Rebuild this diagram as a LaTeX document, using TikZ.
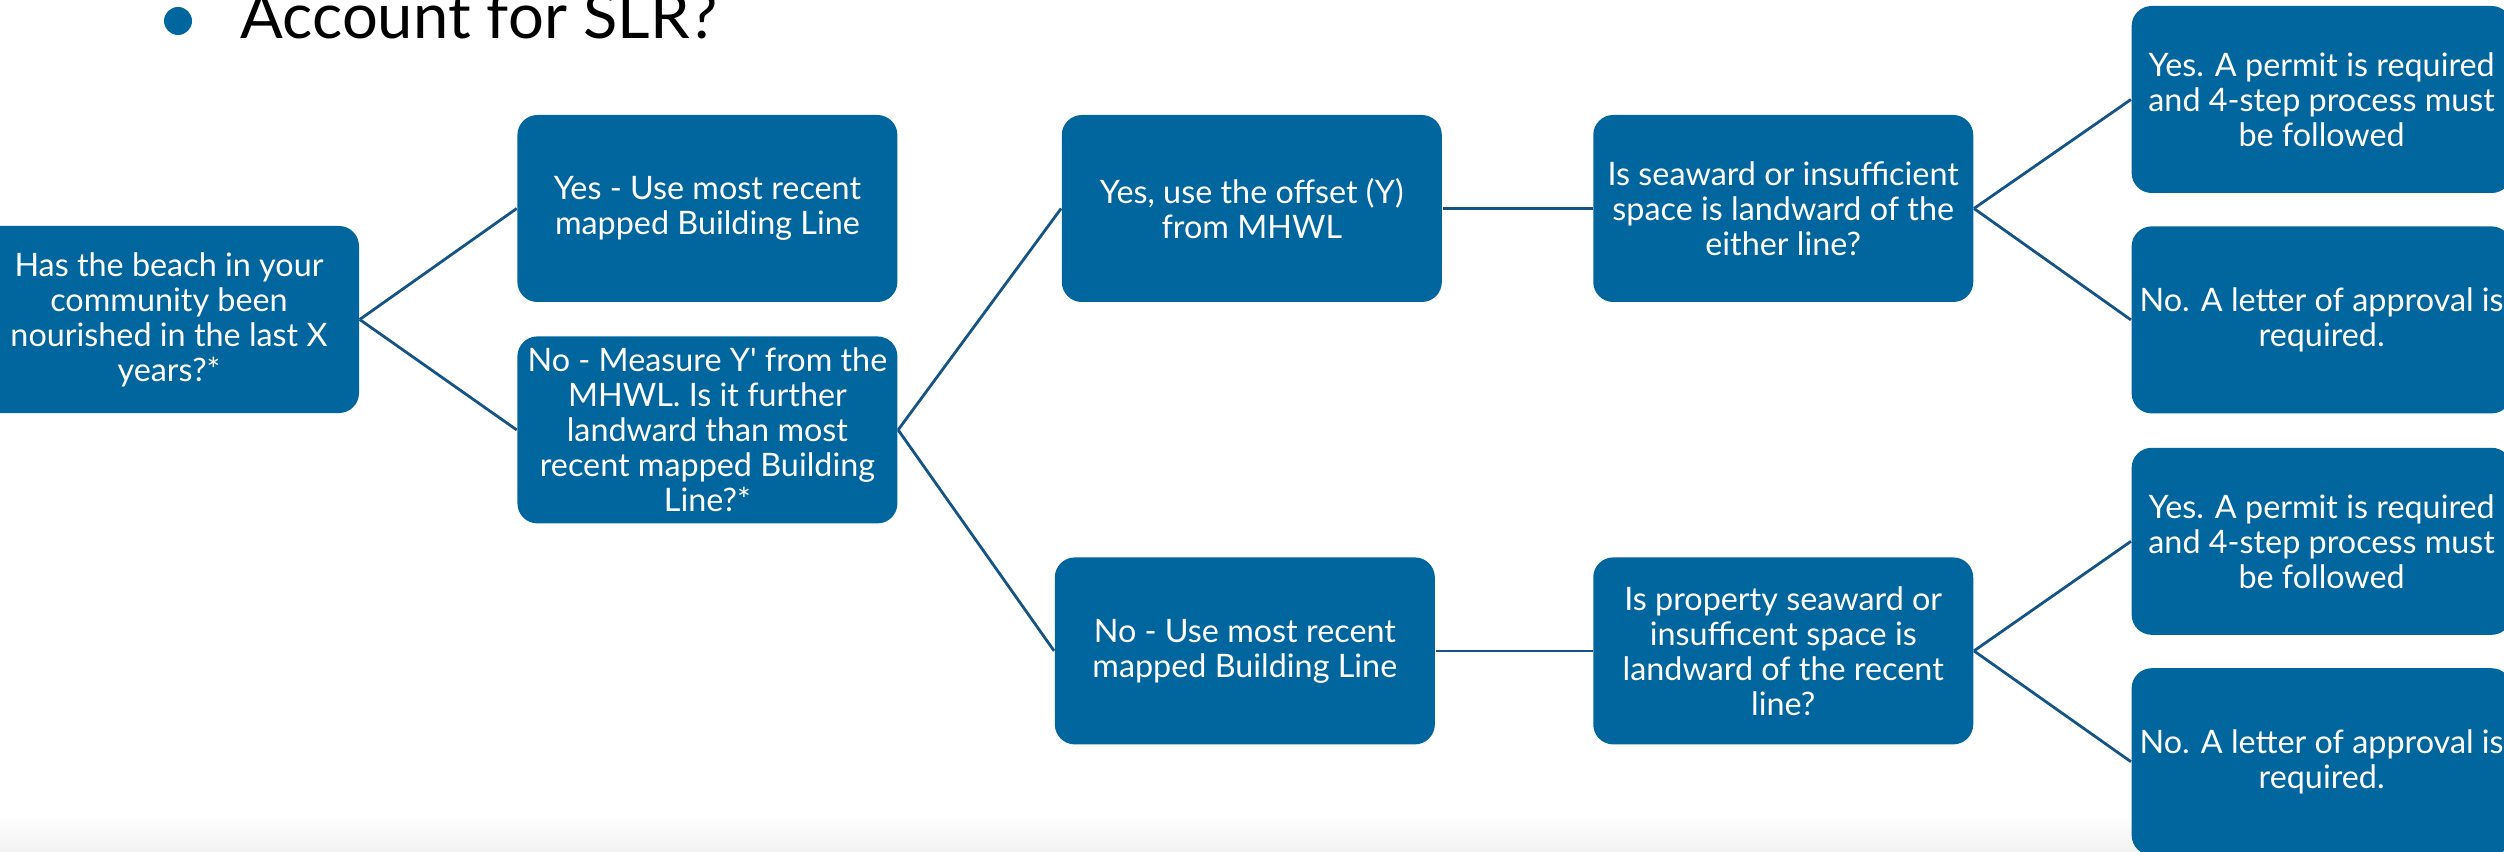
\documentclass[tikz,border=0pt]{standalone}
\usepackage{fontspec}
\setmainfont{Lato}
\usepackage{tikz}
\usetikzlibrary{positioning}
\definecolor{boxblue}{RGB}{2,102,158}
\definecolor{linkblue}{RGB}{22,84,134}
\tikzstyle{block} = [rectangle, fill=boxblue, text=white, align=center,
    minimum width=3.8cm, minimum height=1.87cm, rounded corners=0.2cm,
    inner sep=1pt, font=\fontsize{9.2}{9.96}\selectfont]
\tikzstyle{line} = [draw, linkblue, line width=0.8pt]
\tikzstyle{bullet} = [circle, fill=boxblue, minimum size=0.28cm, inner sep=0pt]

\begin{document}
\begin{tikzpicture}[node distance = 2cm, auto]
    \useasboundingbox (0,0) rectangle (25.04,-8.52);
    % Slide edge
    \shade [top color=white, bottom color=black!5] (0,-8.15) rectangle (25.04,-8.52);
    % Title
    \node [bullet] (dot) at (1.78,-0.21) {};
    \node [anchor=base west, inner sep=0pt, font=\fontsize{18}{22}\selectfont] (title) at (2.40,-0.39) {Account for SLR?};
    % Place nodes
    \node [block] (root) at (1.69,-3.195) {Has the beach in your\\community been\\nourished in the last X\\years?*};
    \node [block, right=1.57cm of root, yshift=1.11cm] (b1) {Yes - Use most recent\\mapped Building Line};
    \node [block, below=0.33cm of b1] (b2) {No - Measure Y\textquotesingle{} from the\\MHWL. Is it further\\landward than most\\recent mapped Building\\Line?*};
    \node [block, right=1.63cm of b1] (c1) {Yes, use the offset (Y)\\from MHWL};
    \node [block, below=2.54cm of c1, xshift=-0.07cm] (c2) {No - Use most recent\\mapped Building Line};
    \node [block, right=1.5cm of c1] (d1) {Is seaward or insufficient\\space is landward of the\\either line?};
    \node [block, below=2.54cm of d1] (d2) {Is property seaward or\\insufficent space is\\landward of the recent\\line?};
    \node [block, right=1.57cm of d1, yshift=1.09cm] (e1) {Yes. A permit is required\\and 4-step process must\\be followed};
    \node [block, below=0.32cm of e1] (e2) {No. A letter of approval is\\required.};
    \node [block, below=0.33cm of e2] (e3) {Yes. A permit is required\\and 4-step process must\\be followed};
    \node [block, below=0.32cm of e3] (e4) {No. A letter of approval is\\required.};
    % Draw edges
    \path [line] (root.east) -- (b1.west);
    \path [line] (root.east) -- (b2.west);
    \path [line] (b2.east) -- (c1.west);
    \path [line] (b2.east) -- (c2.west);
    \path [line] (c1.east) -- (d1.west);
    \path [line] (c2.east) -- (d2.west);
    \path [line] (d1.east) -- (e1.west);
    \path [line] (d1.east) -- (e2.west);
    \path [line] (d2.east) -- (e3.west);
    \path [line] (d2.east) -- (e4.west);
\end{tikzpicture}
\end{document}
